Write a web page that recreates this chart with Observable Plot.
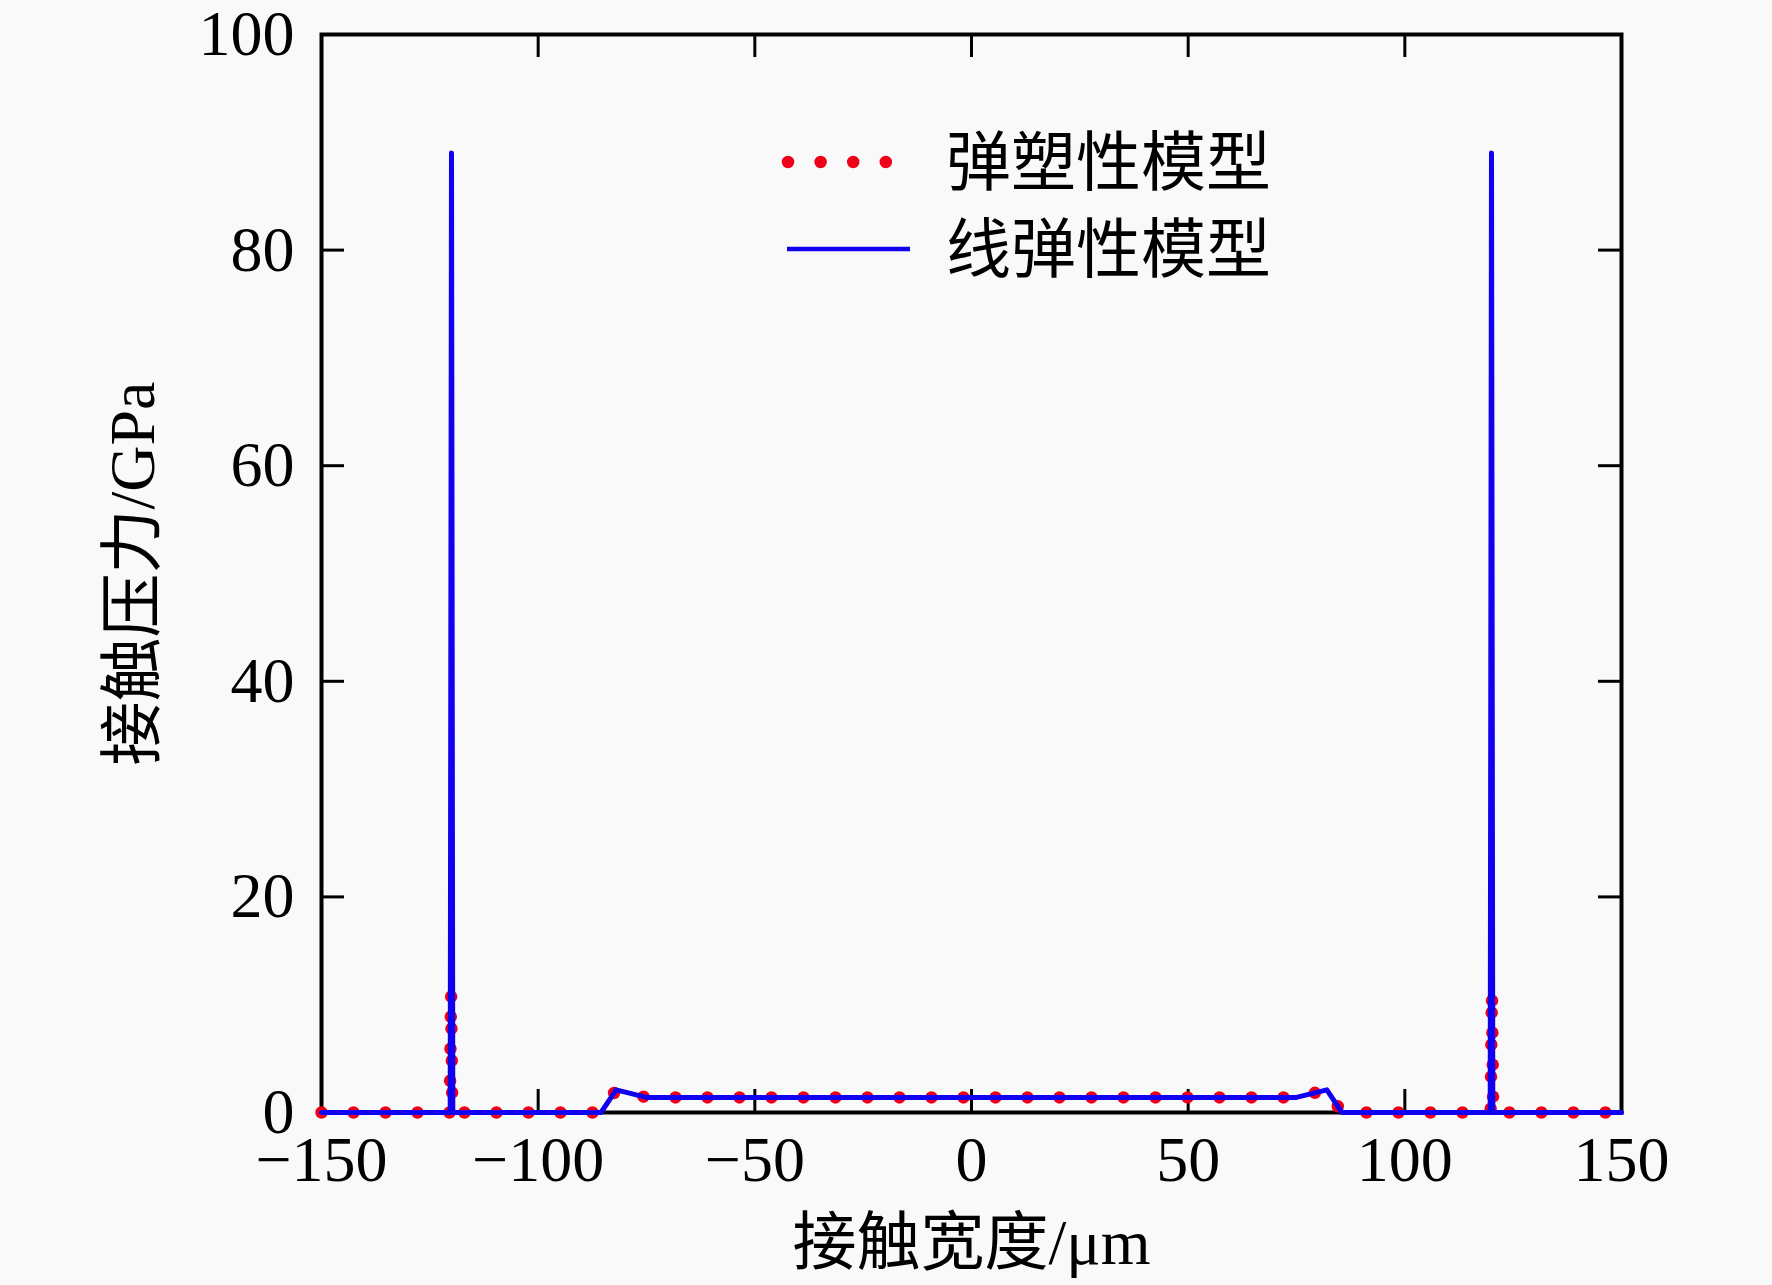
<!DOCTYPE html>
<html><head><meta charset="utf-8">
<script src="https://cdn.jsdelivr.net/npm/d3@7"></script>
<script src="https://cdn.jsdelivr.net/npm/@observablehq/plot@0.6"></script>
<style>
html,body{margin:0;padding:0;background:#f9f9f9;}
#wrap{position:relative;width:1772px;height:1285px;}
#legend{position:absolute;left:0;top:0;pointer-events:none;}
</style></head><body><div id="wrap"></div>
<script>
// ---- data ----
const seriesNames = ["弹塑性模型", "线弹性模型"];
const elastoplasticX = [-150, -120.4, -120.1, -119.8, -85.5, -82, -75, 75, 82, 85.5, 119.8, 120.1, 120.4, 150];
const elastoplasticY = [0, 0, 11.3, 0, 0, 2.1, 1.4, 1.4, 2.1, 0, 0, 11.3, 0, 0];
const linearX = [-150, -120.3, -120.1, -120, -119.9, -119.7, -85.5, -82, -75, 75, 82, 85.5, 119.7, 119.9, 120, 120.1, 120.3, 150];
const linearY = [0, 0, 60, 89, 60, 0, 0, 2.1, 1.4, 1.4, 2.1, 0, 0, 60, 89, 60, 0, 0];
const xTicks = [-150, -100, -50, 0, 50, 100, 150];
const yTicks = [0, 20, 40, 60, 80, 100];
const xTitle = "接触宽度/μm";
const yTitle = "接触压力/GPa";

// ---- layout ----
const W = 1772, H = 1285, mL = 321, mR = 151, mT = 34, mB = 173;
const innerH = H - mT - mB, innerW = W - mL - mR;
const tickLen = 23;
const serif = "'Liberation Serif','Times New Roman','Noto Sans CJK SC',serif";
const cjk = "'Liberation Serif','Noto Sans CJK SC',sans-serif";
const redC = "#f00018", blueC = "#1000f0";

const ep = elastoplasticX.map((x, i) => ({x, y: elastoplasticY[i]}));
const le = linearX.map((x, i) => ({x, y: linearY[i]}));
const fmt = d => d < 0 ? "\u2212" + Math.abs(d) : String(d);

const chart = Plot.plot({
  width: W, height: H,
  marginLeft: mL, marginRight: mR, marginTop: mT, marginBottom: mB,
  style: {background: "#f9f9f9", fontFamily: serif, color: "black", overflow: "visible"},
  x: {domain: [-150, 150]},
  y: {domain: [0, 100]},
  marks: [
    Plot.frame({stroke: "black", strokeWidth: 4}),
    Plot.tickX(xTicks, {x: d => d, insetTop: innerH - tickLen, stroke: "black", strokeWidth: 3}),
    Plot.tickX(xTicks, {x: d => d, insetBottom: innerH - tickLen, stroke: "black", strokeWidth: 3}),
    Plot.tickY(yTicks, {y: d => d, insetRight: innerW - tickLen, stroke: "black", strokeWidth: 3}),
    Plot.tickY(yTicks, {y: d => d, insetLeft: innerW - tickLen, stroke: "black", strokeWidth: 3}),
    Plot.axisX({ticks: xTicks, tickSize: 0, tickPadding: 23, tickFormat: fmt, fontSize: 64, label: null}),
    Plot.axisY({ticks: yTicks, tickSize: 0, tickPadding: 27, tickFormat: fmt, fontSize: 64, label: null}),
    Plot.line(ep, {x: "x", y: "y", stroke: redC, strokeWidth: 12.5, strokeLinecap: "round", strokeDasharray: "0 32"}),
    Plot.line(le, {x: "x", y: "y", stroke: blueC, strokeWidth: 5}),
    Plot.text([xTitle], {text: d => d, frameAnchor: "bottom", dy: 131, fontSize: 64, textAnchor: "middle", lineAnchor: "middle", fontFamily: cjk}),
    Plot.text([yTitle], {text: d => d, frameAnchor: "left", dx: -188, rotate: -90, fontSize: 64, textAnchor: "middle", lineAnchor: "middle", fontFamily: cjk})
  ]
});
document.getElementById("wrap").appendChild(chart);

// ---- legend ----
const leg = d3.select("#wrap").append("svg").attr("id", "legend").attr("width", W).attr("height", H);
leg.append("line").attr("x1", 788).attr("x2", 886).attr("y1", 162).attr("y2", 162)
  .attr("stroke", redC).attr("stroke-width", 12.5).attr("stroke-linecap", "round").attr("stroke-dasharray", "0 32.6");
leg.append("line").attr("x1", 787).attr("x2", 910).attr("y1", 249).attr("y2", 249)
  .attr("stroke", blueC).attr("stroke-width", 4.5);
leg.selectAll("text.l").data(seriesNames).join("text")
  .attr("x", 946).attr("y", (d, i) => i === 0 ? 162 : 249).attr("dy", "0.36em")
  .attr("font-family", cjk).attr("font-size", 65).attr("fill", "black").text(d => d);
</script></body></html>
